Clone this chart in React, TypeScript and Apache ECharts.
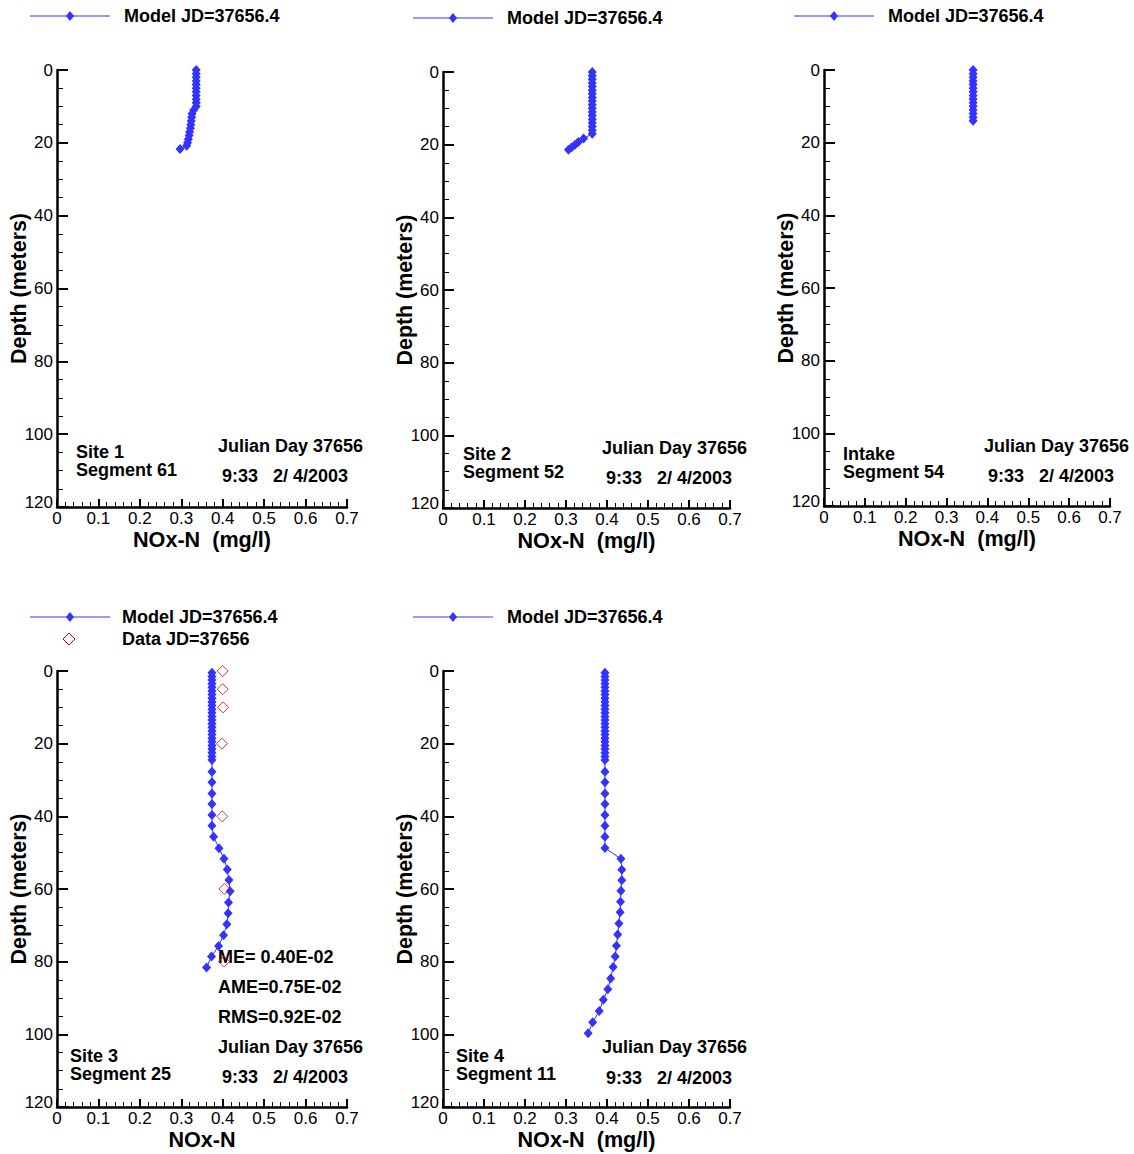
import React, { useEffect, useRef } from "react";
import * as echarts from "echarts";

const FONT = "'Liberation Sans', Arial, Helvetica, sans-serif";
const BLUE = "#3333ff";
const RED = "#dd0000";

// Depth tick labels and x tick values
const yTicks = [0, 20, 40, 60, 80, 100, 120];
const xTicks = [0, 0.1, 0.2, 0.3, 0.4, 0.5, 0.6, 0.7];

// Site 1, Segment 61
const site1Depth = [0, 1, 2, 3, 4, 5, 6, 7, 8, 9, 10, 11, 12, 13, 14, 15, 16, 17, 18, 19, 20, 20.8, 21.7];
const site1Model = [0.336, 0.336, 0.336, 0.336, 0.336, 0.336, 0.336, 0.336, 0.336, 0.336, 0.336, 0.330, 0.326, 0.325, 0.324, 0.323, 0.322, 0.320, 0.319, 0.317, 0.315, 0.313, 0.297];

// Site 2, Segment 52
const site2Depth = [0, 1, 2, 3, 4, 5, 6, 7, 8, 9, 10, 11, 12, 13, 14, 15, 16, 17, 18.3, 19.3, 20.0, 20.7, 21.4];
const site2Model = [0.364, 0.364, 0.364, 0.364, 0.364, 0.364, 0.364, 0.364, 0.364, 0.364, 0.364, 0.364, 0.364, 0.364, 0.364, 0.364, 0.364, 0.364, 0.343, 0.330, 0.322, 0.314, 0.306];

// Intake, Segment 54
const intakeDepth = [0, 1, 2, 3, 4, 5, 6, 7, 8, 9, 10, 11, 12, 13, 14];
const intakeModel = [0.365, 0.365, 0.365, 0.365, 0.365, 0.365, 0.365, 0.365, 0.365, 0.365, 0.365, 0.365, 0.365, 0.365, 0.365];

// Site 3, Segment 25
const site3Depth = [0.5, 1.5, 2.5, 3.5, 4.5, 5.5, 6.5, 7.5, 8.5, 9.5, 10.5, 11.5, 12.5, 13.5, 14.5, 15.5, 16.5, 17.5, 18.5, 19.5, 20.5, 21.5, 22.5, 23.5, 24.5,
  27.7, 30.6, 33.7, 36.6, 39.6, 42.6, 45.6, 48.8, 51.7, 54.6, 57.5, 60.6, 63.7, 66.7, 69.7, 72.7, 75.7, 78.6, 81.6];
const site3Model = [0.374, 0.374, 0.374, 0.374, 0.374, 0.374, 0.374, 0.374, 0.374, 0.374, 0.374, 0.374, 0.374, 0.374, 0.374, 0.374, 0.374, 0.374, 0.374, 0.374, 0.374, 0.374, 0.374, 0.374, 0.374,
  0.374, 0.374, 0.374, 0.374, 0.374, 0.374, 0.378, 0.391, 0.403, 0.411, 0.415, 0.418, 0.414, 0.413, 0.410, 0.402, 0.390, 0.373, 0.361];
const site3DataDepth = [0, 5, 10, 20, 40, 60, 80];
const site3Data = [0.400, 0.400, 0.401, 0.398, 0.399, 0.404, 0.403];

// Site 4, Segment 11
const site4Depth = [0.5, 1.5, 2.5, 3.5, 4.5, 5.5, 6.5, 7.5, 8.5, 9.5, 10.5, 11.5, 12.5, 13.5, 14.5, 15.5, 16.5, 17.5, 18.5, 19.5, 20.5, 21.5, 22.5, 23.5, 24.5,
  27.7, 30.6, 33.7, 36.6, 39.6, 42.6, 45.6, 48.7, 51.7, 54.7, 57.6, 60.5, 63.5, 66.4, 69.5, 72.5, 75.6, 78.6, 81.5, 84.6, 87.6, 90.5, 93.6, 96.7, 99.7];
const site4Model = [0.395, 0.395, 0.395, 0.395, 0.395, 0.395, 0.395, 0.395, 0.395, 0.395, 0.395, 0.395, 0.395, 0.395, 0.395, 0.395, 0.395, 0.395, 0.395, 0.395, 0.395, 0.395, 0.395, 0.395, 0.395,
  0.395, 0.395, 0.395, 0.395, 0.395, 0.395, 0.395, 0.395, 0.434, 0.436, 0.436, 0.434, 0.433, 0.432, 0.429, 0.426, 0.423, 0.420, 0.415, 0.409, 0.402, 0.391, 0.381, 0.365, 0.354];

const modelLabel = "Model JD=37656.4";
const dataLabel = "Data JD=37656";

const grids = [
  { left: 57, top: 70, width: 290, height: 437 },
  { left: 443, top: 72, width: 287, height: 436 },
  { left: 824, top: 70, width: 286, height: 436 },
  { left: 57, top: 671, width: 290, height: 436 },
  { left: 443, top: 671, width: 287, height: 436 },
];
const xNames = ["NOx-N  (mg/l)", "NOx-N  (mg/l)", "NOx-N  (mg/l)", "NOx-N", "NOx-N  (mg/l)"];

const pairs = (xs: number[], ds: number[]) => xs.map((v, i) => [v, ds[i]]);

function txt(x: number, y: number, text: string, size = 18) {
  return {
    type: "text",
    x,
    y,
    style: { text, fontFamily: FONT, fontSize: size, fontWeight: "bold", fill: "#000", verticalAlign: "middle", align: "left" },
  };
}

function modelLegend(x: number, y: number, tx: number) {
  return [
    { type: "line", shape: { x1: x, y1: y, x2: x + 80, y2: y }, style: { stroke: BLUE, lineWidth: 1 } },
    {
      type: "polygon",
      shape: { points: [[x + 40, y - 5], [x + 44, y], [x + 40, y + 5], [x + 36, y]] },
      style: { fill: BLUE },
    },
    txt(tx, y, modelLabel),
  ];
}

export default function App() {
  const ref = useRef<HTMLDivElement>(null);
  useEffect(() => {
    if (!ref.current) return;
    const chart = echarts.init(ref.current, undefined, { renderer: "svg" });

    const xAxis = grids.map((_, i) => ({
      type: "value",
      gridIndex: i,
      min: 0,
      max: 0.7,
      interval: 0.1,
      position: "bottom",
      name: xNames[i],
      nameLocation: "middle",
      nameGap: 21,
      nameMoveOverlap: false,
      nameTextStyle: { fontFamily: FONT, fontSize: 21.6, fontWeight: "bold", color: "#000" },
      axisLine: { show: true, onZero: false, lineStyle: { color: "#000", width: 2.5 } },
      axisTick: { show: true, inside: true, length: 8, lineStyle: { color: "#000", width: 2 } },
      minorTick: { show: true, splitNumber: 5, length: 5, lineStyle: { color: "#000", width: 1 } },
      splitLine: { show: false },
      axisLabel: {
        fontFamily: FONT,
        fontSize: 17,
        color: "#000",
        margin: 3,
        formatter: (v: number) => {
          const t = xTicks.find((k) => Math.abs(k - v) < 1e-6);
          return t === undefined ? "" : String(t);
        },
      },
    }));

    const yAxis = grids.map((_, i) => ({
      type: "value",
      gridIndex: i,
      min: 0,
      max: 120,
      interval: 20,
      inverse: true,
      name: "Depth (meters)",
      nameLocation: "middle",
      nameGap: 28,
      nameMoveOverlap: false,
      nameTextStyle: { fontFamily: FONT, fontSize: 21.4, fontWeight: "bold", color: "#000" },
      axisLine: { show: true, onZero: false, lineStyle: { color: "#000", width: 2.5 } },
      axisTick: { show: true, inside: true, length: 11, lineStyle: { color: "#000", width: 2 } },
      minorTick: { show: true, splitNumber: 4, length: 6, lineStyle: { color: "#000", width: 1 } },
      splitLine: { show: false },
      axisLabel: {
        fontFamily: FONT,
        fontSize: 17,
        color: "#000",
        margin: 4,
        formatter: (v: number) => {
          if (!yTicks.includes(v)) return "";
          return v === 120 ? "{up|" + v + "}" : String(v);
        },
        rich: { up: { fontFamily: FONT, fontSize: 17, color: "#000", padding: [0, 0, 9, 0] } },
      },
    }));

    const modelSeries = (i: number, xs: number[], ds: number[]) => ({
      type: "line",
      name: modelLabel,
      xAxisIndex: i,
      yAxisIndex: i,
      data: pairs(xs, ds),
      symbol: "diamond",
      symbolSize: [9, 10],
      showSymbol: true,
      clip: false,
      lineStyle: { color: BLUE, width: 1 },
      itemStyle: { color: BLUE },
      z: 3,
    });

    const series: any[] = [
      modelSeries(0, site1Model, site1Depth),
      modelSeries(1, site2Model, site2Depth),
      modelSeries(2, intakeModel, intakeDepth),
      modelSeries(3, site3Model, site3Depth),
      modelSeries(4, site4Model, site4Depth),
      {
        type: "scatter",
        name: dataLabel,
        xAxisIndex: 3,
        yAxisIndex: 3,
        data: pairs(site3Data, site3DataDepth),
        symbol: "diamond",
        symbolSize: [11, 11],
        clip: false,
        itemStyle: { color: "rgba(0,0,0,0)", borderColor: RED, borderWidth: 1 },
        z: 4,
      },
    ];

    const graphic: any[] = [
      ...modelLegend(30, 16, 124),
      ...modelLegend(413, 18, 507),
      ...modelLegend(794, 16, 888),
      ...modelLegend(30, 617, 122),
      {
        type: "polygon",
        shape: { points: [[69, 633], [75, 639], [69, 645], [63, 639]] },
        style: { fill: "none", stroke: RED, lineWidth: 1 },
      },
      txt(122, 639, dataLabel),
      ...modelLegend(413, 617, 507),

      txt(76, 452, "Site 1"),
      txt(76, 470, "Segment 61"),
      txt(218, 446, "Julian Day 37656"),
      txt(222, 476, "9:33   2/ 4/2003"),

      txt(463, 454, "Site 2"),
      txt(463, 472, "Segment 52"),
      txt(602, 448, "Julian Day 37656"),
      txt(606, 478, "9:33   2/ 4/2003"),

      txt(843, 454, "Intake"),
      txt(843, 472, "Segment 54"),
      txt(984, 446, "Julian Day 37656"),
      txt(988, 476, "9:33   2/ 4/2003"),

      txt(70, 1056, "Site 3"),
      txt(70, 1074, "Segment 25"),
      txt(218, 957, "ME= 0.40E-02"),
      txt(218, 987, "AME=0.75E-02"),
      txt(218, 1017, "RMS=0.92E-02"),
      txt(218, 1047, "Julian Day 37656"),
      txt(222, 1077, "9:33   2/ 4/2003"),

      txt(456, 1056, "Site 4"),
      txt(456, 1074, "Segment 11"),
      txt(602, 1047, "Julian Day 37656"),
      txt(606, 1078, "9:33   2/ 4/2003"),
    ];

    chart.setOption({
      animation: false,
      backgroundColor: "#ffffff",
      grid: grids.map((g) => ({ ...g, containLabel: false })),
      xAxis,
      yAxis,
      series,
      graphic,
    });

    return () => chart.dispose();
  }, []);

  return (
    <div
      ref={ref}
      style={{ position: "absolute", left: 0, top: 0, width: 1134, height: 1154, background: "#fff" }}
    />
  );
}
